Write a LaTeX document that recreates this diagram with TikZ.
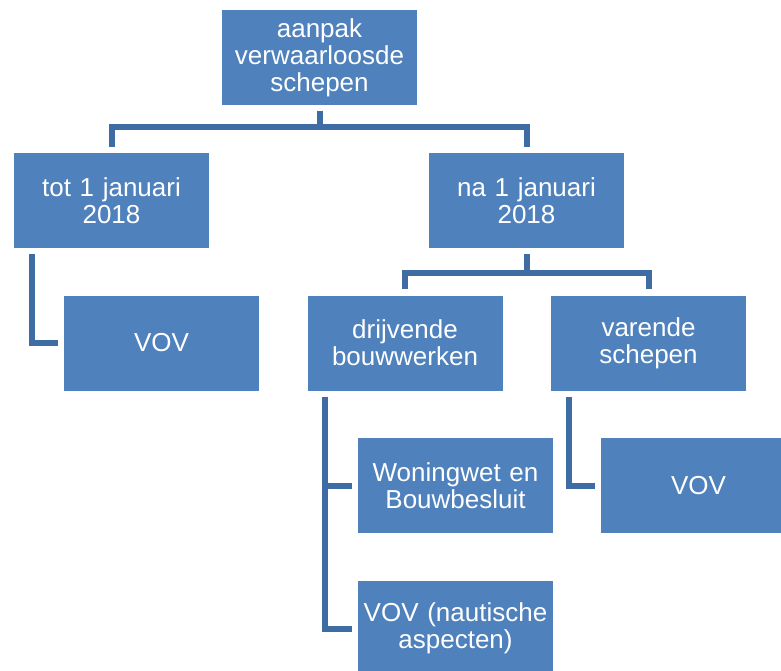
\documentclass[tikz,border=0pt]{standalone}
\usepackage{fontspec}
\setmainfont{Liberation Sans}
\usepackage{tikz}
\definecolor{boxblue}{HTML}{4F81BD}
\definecolor{lineblue}{HTML}{3F6CA3}

\begin{document}
\begin{tikzpicture}[x=1pt,y=-1pt]
\tikzstyle{box}=[rectangle,fill=boxblue,text=white,minimum width=195pt,minimum height=95pt,text width=192pt,inner sep=0pt,align=center,font=\fontsize{26}{27}\selectfont];
\tikzstyle{link}=[lineblue,line width=6pt,shorten <=6pt,shorten >=6pt];
\clip (0,0) rectangle (781,670);
\node[box] (top)at(319.5,57.5) {aanpak\\verwaarloosde\\schepen};
\node[box] (tot)at(111.5,200.5) {tot 1 januari\\2018};
\node[box] (na)at(526.5,200.5) {na 1 januari\\2018};
\node[box] (vovL)at(161.5,343) {VOV};
\node[box] (drij)at(405,343) {drijvende\\bouwwerken};
\node[box] (var)at(648.5,343) {varende\\schepen};
\node[box] (won)at(455.5,485.5) {Woningwet en\\Bouwbesluit};
\node[box] (vovR)at(698.5,485.5) {VOV};
\node[box] (naut)at(455.5,628.5) {VOV (nautische\\aspecten)};
% tree lines
\draw[link](top.south)--++(0,22)-|(tot.north);
\draw[link](top.south)--++(0,22)-|(na.north);
\draw[link](na.south)--++(0,25)-|(drij.north);
\draw[link](na.south)--++(0,25)-|(var.north);
% side lines
\draw[link]([xshift=18pt]tot.south west)|-(vovL.west);
\draw[link]([xshift=18pt]drij.south west)|-(won.west);
\draw[link]([xshift=18pt]drij.south west)|-(naut.west);
\draw[link]([xshift=18pt]var.south west)|-(vovR.west);
\end{tikzpicture}
\end{document}
